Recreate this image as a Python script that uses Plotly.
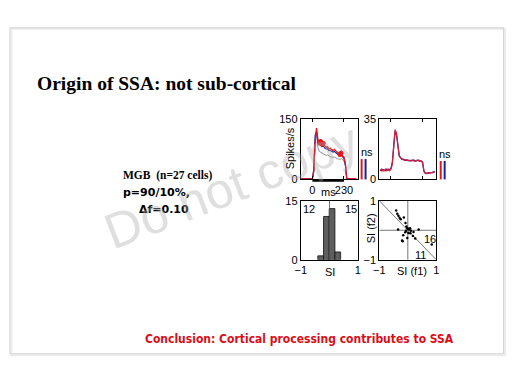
import plotly.graph_objects as go

# ---------------- data ----------------
# Panel A: MGB population PSTH (spikes/s), 10-ms bins
time_ms = [-80, -70, -60, -50, -40, -30, -20, -10, 0, 10, 20, 30, 40, 50, 60, 70, 80, 90, 100,
           110, 120, 130, 140, 150, 160, 170, 180, 190, 200, 210, 220, 230, 240, 250, 260, 270,
           280, 290, 300, 310, 320]
psthA_red = [2, 1, 2, 1, 1, 2, 1, 2,
             2, 20, 95, 128, 100, 92, 95, 88, 90, 84, 80, 82, 76, 78, 74, 72, 75, 70, 68, 66,
             62, 66, 58, 56, 40, 3, 1, 1, 2, 1, 1, 2, 1]
psthA_blue = [2, 1, 1, 2, 1, 1, 2, 1,
              2, 25, 110, 120, 95, 86, 88, 82, 84, 78, 76, 77, 72, 73, 70, 68, 70, 66, 64, 62,
              58, 61, 55, 52, 38, 3, 1, 2, 1, 1, 2, 1, 1]
psthA_grey = [1, 1, 2, 1, 1, 1, 2, 1,
              1, 18, 90, 115, 80, 70, 68, 66, 64, 62, 60, 61, 58, 57, 56, 55, 56, 53, 52, 51,
              50, 52, 48, 46, 34, 2, 1, 1, 1, 2, 1, 1, 1]
sig_times = [50, 60, 70, 80, 200, 210]
sig_vals = [92, 95, 88, 90, 62, 66]
stim_ms = [0, 230]
psthA_ticks = [0, 150]

# Panel B: second PSTH (spikes/s)
psthB_red = [5, 6, 5, 5, 6, 5, 6, 5,
             6, 9, 20, 29, 27, 19, 14, 12.5, 12, 11.5, 11, 11.5, 11, 11.2, 10.8, 11, 11.4, 10.6,
             11, 11.2, 10.8, 11, 10.5, 10.2, 5, 3.5, 3.8, 3.4, 3.6, 4, 3.8, 4.3, 4.6]
psthB_blue = [5.5, 5, 5.8, 5.2, 5, 6, 5.4, 5.6,
              6.5, 10, 21, 28, 26, 18, 13.5, 12.8, 11.6, 11.8, 11.2, 11, 11.4, 10.8, 11.1, 10.9,
              11, 11.2, 10.7, 10.9, 11.3, 10.6, 10.8, 9.8, 4.6, 3.6, 3.4, 3.8, 3.9, 3.7, 4.1,
              4.4, 4.4]
psthB_ticks = [0, 35]

# Panel C: histogram of SI
si_bin_centers = [-0.3, -0.1, 0.1, 0.3]
si_counts = [1, 11, 13, 2]
si_median = 0.01
hist_ticks = [0, 15]
si_ticks = [-1, 1]

# Panel D: SI(f1) vs SI(f2)
si_f1 = [-0.41, -0.37, -0.33, -0.29, -0.25, -0.14, -0.08, -0.05, -0.02, 0.01, 0.05, 0.08, 0.11,
         -0.06, -0.09, 0.02, 0.09, 0.20, 0.38, -0.34, -0.16, -0.18, -0.02, 0.18, 0.26, 0.84, -0.20]
si_f2 = [0.67, 0.56, 0.49, 0.42, 0.37, 0.43, 0.25, 0.13, 0.07, 0.05, 0.03, 0.07, -0.02,
         -0.02, -0.07, -0.09, -0.10, -0.06, 0.03, 0.03, -0.17, -0.37, -0.26, -0.19, -0.28, -0.48, -0.35]

# ---------------- figure ----------------
W, H = 512, 384
def fx(p): return p / W
def fy(p): return 1 - p / H

RED = '#e3161b'
BLUE = '#1b1f9a'
SANS = 'Liberation Sans, Arial, sans-serif'

fig = go.Figure()

# Panel A
fig.add_trace(go.Scatter(x=time_ms, y=psthA_grey, xaxis='x', yaxis='y', mode='lines',
                         line=dict(color='#8c8c8c', width=1)))
fig.add_trace(go.Scatter(x=time_ms, y=psthA_blue, xaxis='x', yaxis='y', mode='lines',
                         line=dict(color=BLUE, width=1.2)))
fig.add_trace(go.Scatter(x=time_ms, y=psthA_red, xaxis='x', yaxis='y', mode='lines',
                         line=dict(color=RED, width=1.3)))
fig.add_trace(go.Scatter(x=sig_times, y=sig_vals, xaxis='x', yaxis='y', mode='markers',
                         marker=dict(symbol='asterisk-open', size=4, color=RED,
                                     line=dict(color=RED, width=1.5))))

# Panel B
fig.add_trace(go.Scatter(x=time_ms, y=psthB_blue, xaxis='x2', yaxis='y2', mode='lines',
                         line=dict(color=BLUE, width=1.2)))
fig.add_trace(go.Scatter(x=time_ms, y=psthB_red, xaxis='x2', yaxis='y2', mode='lines',
                         line=dict(color='#d0203a', width=1.3)))

# Panel C
fig.add_trace(go.Bar(x=si_bin_centers, y=si_counts, width=0.2, xaxis='x3', yaxis='y3',
                     marker=dict(color='#5e5e5e', line=dict(color='#111111', width=0.8))))
fig.add_trace(go.Scatter(x=[si_median, si_median], y=hist_ticks, xaxis='x3', yaxis='y3',
                         mode='lines', line=dict(color=RED, width=0.8)))

# Panel D
fig.add_trace(go.Scatter(x=[0, 0], y=si_ticks, xaxis='x4', yaxis='y4', mode='lines',
                         line=dict(color='#777777', width=1)))
fig.add_trace(go.Scatter(x=si_ticks, y=[0, 0], xaxis='x4', yaxis='y4', mode='lines',
                         line=dict(color='#777777', width=1)))
fig.add_trace(go.Scatter(x=si_ticks, y=si_ticks[::-1], xaxis='x4', yaxis='y4', mode='lines',
                         line=dict(color='#555555', width=0.8)))
fig.add_trace(go.Scatter(x=si_f1, y=si_f2, xaxis='x4', yaxis='y4', mode='markers',
                         marker=dict(color='black', size=2.5)))

ax = dict(showline=True, mirror='allticks', linecolor='black', linewidth=1, ticks='inside',
          ticklen=3, tickcolor='black', showgrid=False, zeroline=False,
          tickfont=dict(family=SANS, size=11, color='black'), fixedrange=True)

fig.update_layout(
    width=W, height=H, margin=dict(l=0, r=0, t=0, b=0),
    paper_bgcolor='white', plot_bgcolor='white', showlegend=False,
    xaxis=dict(ax, domain=[fx(300), fx(358)], anchor='y', range=[-85, 330],
               tickvals=stim_ms, ticktext=[str(v) for v in stim_ms]),
    yaxis=dict(ax, domain=[fy(179), fy(117)], anchor='x', range=[0, 150], tickvals=psthA_ticks),
    xaxis2=dict(ax, domain=[fx(380), fx(438)], anchor='y2', range=[-85, 330],
                tickvals=stim_ms, showticklabels=False),
    yaxis2=dict(ax, domain=[fy(179), fy(117)], anchor='x2', range=[0, 35], tickvals=psthB_ticks),
    xaxis3=dict(ax, domain=[fx(300), fx(358)], anchor='y3', range=[-1, 1], tickvals=si_ticks),
    yaxis3=dict(ax, domain=[fy(262), fy(201)], anchor='x3', range=[0, 15], tickvals=hist_ticks),
    xaxis4=dict(ax, domain=[fx(380), fx(438)], anchor='y4', range=[-1, 1], tickvals=si_ticks),
    yaxis4=dict(ax, domain=[fy(262), fy(201)], anchor='x4', range=[-1, 1], tickvals=si_ticks),
)

shapes = []
# slide frame with soft shadow
shapes.append(dict(type='rect', xref='paper', yref='paper', x0=fx(5.5), x1=fx(508), y0=fy(360.5),
                   y1=fy(23.5), line=dict(color='#ececec', width=2)))
shapes.append(dict(type='rect', xref='paper', yref='paper', x0=fx(4), x1=fx(506.5), y0=fy(359),
                   y1=fy(22.5), line=dict(color='#d2d2d2', width=1)))
# stimulus bar
shapes.append(dict(type='rect', xref='x', yref='paper', x0=stim_ms[0], x1=stim_ms[1],
                   y0=fy(181.5), y1=fy(179), fillcolor='black', line=dict(width=0)))
# ns colour bars
for xr, xb, ytop in [(362, 366, 158), (442.5, 446.5, 160)]:
    shapes.append(dict(type='line', xref='paper', yref='paper', x0=fx(xr), x1=fx(xr),
                       y0=fy(179), y1=fy(ytop), line=dict(color=RED, width=2)))
    shapes.append(dict(type='line', xref='paper', yref='paper', x0=fx(xb), x1=fx(xb),
                       y0=fy(179), y1=fy(ytop), line=dict(color=BLUE, width=2)))
fig.update_layout(shapes=shapes)

ann = []
def txt(text, x, y, size=11, family=SANS, color='black', xanchor='center', angle=0, **kw):
    ann.append(dict(text=text, x=fx(x), y=fy(y), xref='paper', yref='paper', showarrow=False,
                    xanchor=xanchor, yanchor='middle', textangle=angle,
                    font=dict(family=family, size=size, color=color), **kw))

txt('<b>Origin of SSA: not sub-cortical</b>', 30, 80, size=19.5,
    family='Liberation Serif, Times New Roman, serif', xanchor='left')
txt('<b>MGB\u00a0\u00a0(n=27 cells)</b>', 117, 175, size=11.5,
    family='Liberation Serif, Times New Roman, serif', xanchor='left')
txt('<b>p=90/10%,</b>', 117, 193, size=11, family='DejaVu Sans', xanchor='left')
txt('<b>\u0394f=0.10</b>', 133, 210, size=11, family='DejaVu Sans', xanchor='left')
txt('<b>Conclusion: Cortical processing contributes to SSA</b>', 299, 344, size=12,
    family='DejaVu Sans Condensed, DejaVu Sans', color='#dc0d18')
txt('Do not copy', 230, 186, size=50, family='Liberation Sans, Arial', color='rgba(170,170,170,0.38)',
    angle=-21)
txt('ns', 367, 151)
txt('ns', 447, 153)
txt('ms', 328, 192)
txt('Spikes/s', 289, 147, angle=-90)
txt('SI', 330, 275)
txt('SI (f1)', 413, 274)
txt('SI (f2)', 371, 229, angle=-90)
txt('12', 308.5, 210)
txt('15', 351, 210)
txt('16', 432, 240)
txt('11', 422, 257)
fig.update_layout(annotations=ann)

fig.write_html('out.html', config={'displayModeBar': False},
               post_script="document.body.style.margin='0';document.body.style.overflow='hidden';")
